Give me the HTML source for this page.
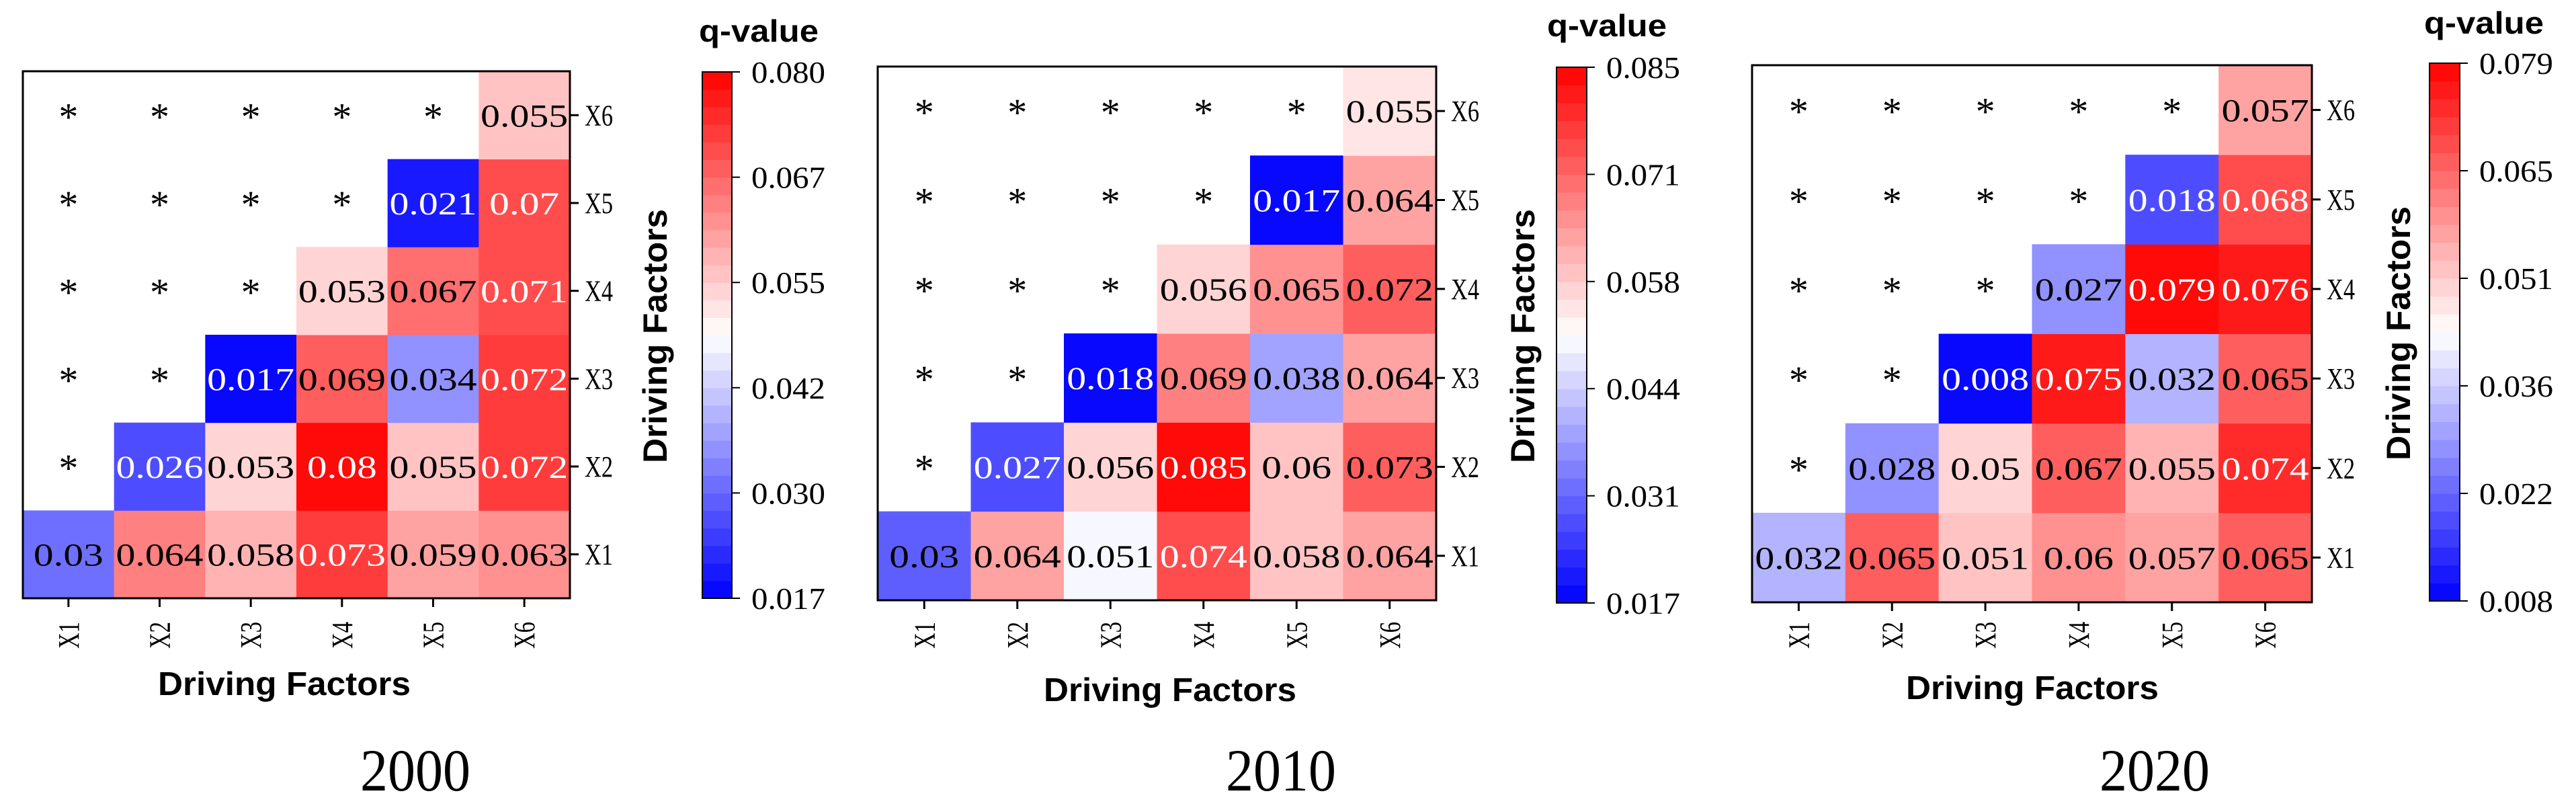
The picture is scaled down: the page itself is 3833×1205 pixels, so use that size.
<!DOCTYPE html>
<html><head><meta charset="utf-8"><title>q-value heatmaps</title>
<style>html,body{margin:0;padding:0;background:#fff}svg{display:block}</style></head>
<body>
<svg id="chart" xmlns="http://www.w3.org/2000/svg" width="3833" height="1205" viewBox="0 0 3833 1205"></svg>
<script>
const factors = ["X1","X2","X3","X4","X5","X6"];
const years = ["2000","2010","2020"];
// rows X1..X6, values for columns Xr..X6
const q2000 = [[0.03,0.064,0.058,0.073,0.059,0.063],[0.026,0.053,0.08,0.055,0.072],[0.017,0.069,0.034,0.072],[0.053,0.067,0.071],[0.021,0.07],[0.055]];
const q2010 = [[0.03,0.064,0.051,0.074,0.058,0.064],[0.027,0.056,0.085,0.06,0.073],[0.018,0.069,0.038,0.064],[0.056,0.065,0.072],[0.017,0.064],[0.055]];
const q2020 = [[0.032,0.065,0.051,0.06,0.057,0.065],[0.028,0.05,0.067,0.055,0.074],[0.008,0.075,0.032,0.065],[0.027,0.079,0.076],[0.018,0.068],[0.057]];
const scaleMin = [0.017,0.017,0.008];
const scaleMax = [0.080,0.085,0.079];
const ticks2000 = ["0.080","0.067","0.055","0.042","0.030","0.017"];
const ticks2010 = ["0.085","0.071","0.058","0.044","0.031","0.017"];
const ticks2020 = ["0.079","0.065","0.051","0.036","0.022","0.008"];

const dataSets = [q2000,q2010,q2020];
const tickSets = [ticks2000,ticks2010,ticks2020];
const layout = [
 {bx:34,bx2:848,by:106,by2:890,cx:1045,cx2:1089,cy:107,cy2:890,qx:1129,qy:62,ytx:974,yty:500,xtx:423,xty:1034,yrx:618},
 {bx:1306,bx2:2137,by:99,by2:893,cx:2316,cx2:2361,cy:100,cy2:897,qx:2391,qy:54,ytx:2265,yty:500,xtx:1741,xty:1043,yrx:1906},
 {bx:2607,bx2:3440,by:97,by2:896,cx:3615,cx2:3660,cy:94,cy2:894,qx:3696,qy:50,ytx:3568,yty:496,xtx:3024,xty:1040,yrx:3206}
];
const NS="http://www.w3.org/2000/svg";
const svg=document.getElementById('chart');
function mk(tag,attrs,parent){const e=document.createElementNS(NS,tag);for(const k in attrs)e.setAttribute(k,attrs[k]);(parent||svg).appendChild(e);return e;}
const LEVELS=30;
function bwr(t){ // t in [-1,1]
  t=Math.max(-1,Math.min(1,t));
  let u=(t+1)/2; u=Math.min(LEVELS-1,Math.floor(u*LEVELS)); u=(u+0.5)/LEVELS; const s=u*2-1;
  if(s<0){const v=Math.round(255*(1+s));return `rgb(${v},${v},255)`;}
  const v=Math.round(255*(1-s));return `rgb(255,${v},${v})`;
}
const serif='"Liberation Serif", serif', sans='"Liberation Sans", Arial, sans-serif';

dataSets.forEach((data,p)=>{
  const L=layout[p], mn=scaleMin[p], mx=scaleMax[p], mid=(mn+mx)/2, half=(mx-mn)/2;
  const g=mk('g',{});
  
  
  const cw=(L.bx2-L.bx)/6, ch=(L.by2-L.by)/6;
  const xc=i=>L.bx+cw*(i+0.5);
  const yc=r=>L.by2-ch*(r+0.5);
  for(let r=0;r<6;r++){
    for(let c=0;c<6;c++){
      if(c<r){
        const s=mk('text',{x:xc(c),y:yc(r)+22,'text-anchor':'middle','font-family':serif,'font-size':58,fill:'#000'},g);
        s.textContent='*';
        
        
        continue;
      }
      const v=data[r][c-r]; const t=(v-mid)/half;
      const rect=mk('rect',{x:L.bx+cw*c,y:L.by2-ch*(r+1),width:cw+0.5,height:ch+0.5,fill:bwr(t)},g);
      
      
      const str=String(v);
      const tx=mk('text',{x:xc(c),y:yc(r)+17,'text-anchor':'middle','font-family':serif,'font-size':48,fill:Math.abs(t)>0.665?'#fff':'#000',textLength:str.length*26,lengthAdjust:'spacingAndGlyphs'},g);
      tx.textContent=str;
      
      
    }
  }
  const box=mk('rect',{x:L.bx,y:L.by,width:L.bx2-L.bx,height:L.by2-L.by,fill:'none',stroke:'#000','stroke-width':3},g);
  
  
  for(let i=0;i<6;i++){
    mk('line',{x1:xc(i),x2:xc(i),y1:L.by2,y2:L.by2+13,stroke:'#000','stroke-width':3},g);
    const xl=mk('text',{x:0,y:0,transform:`translate(${xc(i)+15},945) rotate(-90)`,'text-anchor':'middle','font-family':serif,'font-size':44,fill:'#000',textLength:40,lengthAdjust:'spacingAndGlyphs'},g);
    xl.textContent=factors[i];
    
    
    mk('line',{x1:L.bx2,x2:L.bx2+13,y1:yc(i),y2:yc(i),stroke:'#000','stroke-width':3},g);
    const yl=mk('text',{x:L.bx2+22,y:yc(i)+15,'font-family':serif,'font-size':44,fill:'#000',textLength:42,lengthAdjust:'spacingAndGlyphs'},g);
    yl.textContent=factors[i];
    
    
  }
  // colorbar
  const cbH=L.cy2-L.cy;
  for(let k=0;k<LEVELS;k++){
    const t=((k+0.5)/LEVELS)*2-1;
    mk('rect',{x:L.cx,y:L.cy2-cbH*(k+1)/LEVELS,width:L.cx2-L.cx,height:cbH/LEVELS+0.6,fill:bwr(t)},g);
  }
  const cb=mk('rect',{x:L.cx,y:L.cy,width:L.cx2-L.cx,height:cbH,fill:'none',stroke:'#000','stroke-width':2},g);
  
  
  tickSets[p].forEach((lab,k)=>{
    const y=L.cy+cbH*k/5;
    mk('line',{x1:L.cx2,x2:L.cx2+12,y1:y,y2:y,stroke:'#000','stroke-width':2},g);
    const tl=mk('text',{x:L.cx2+29,y:y+16,'font-family':serif,'font-size':46,fill:'#000',textLength:110,lengthAdjust:'spacingAndGlyphs'},g);
    tl.textContent=lab;
    
    
  });
  const qt=mk('text',{x:L.qx,y:L.qy,'text-anchor':'middle','font-family':sans,'font-weight':'bold','font-size':46,fill:'#000',textLength:178,lengthAdjust:'spacingAndGlyphs'},g);
  qt.textContent='q-value';
  
  
  const yt=mk('text',{x:0,y:0,transform:`translate(${L.ytx+18},${L.yty}) rotate(-90)`,'text-anchor':'middle','font-family':sans,'font-weight':'bold','font-size':50,fill:'#000',textLength:378,lengthAdjust:'spacingAndGlyphs'},g);
  yt.textContent='Driving Factors';
  
  
  const xt=mk('text',{x:L.xtx,y:L.xty,'text-anchor':'middle','font-family':sans,'font-weight':'bold','font-size':49,fill:'#000',textLength:376,lengthAdjust:'spacingAndGlyphs'},g);
  xt.textContent='Driving Factors';
  
  
  const yr=mk('text',{x:L.yrx,y:1176,'text-anchor':'middle','font-family':serif,'font-size':89,fill:'#000',textLength:164,lengthAdjust:'spacingAndGlyphs'},g);
  yr.textContent=years[p];
  
  
});
</script>
</body></html>
